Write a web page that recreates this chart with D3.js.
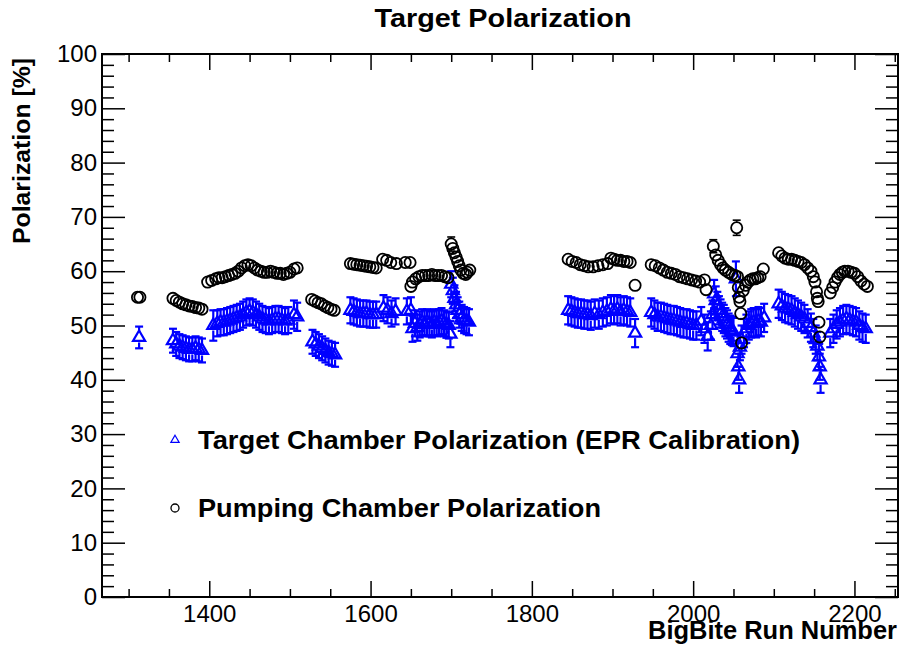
<!DOCTYPE html>
<html>
<head>
<meta charset="utf-8">
<script src="https://cdn.jsdelivr.net/npm/d3@7"></script>
<style>
body { margin: 0; background: #fff; }
text { font-family: "Liberation Sans", Arial, Helvetica, sans-serif; }
</style>
</head>
<body>
<script>
// axis ticks
var xTicks = [1400, 1600, 1800, 2000, 2200];
var yTicks = [0, 10, 20, 30, 40, 50, 60, 70, 80, 90, 100];

// target chamber polarization (EPR calibration)
var tcRun = [1313,
  1355, 1359, 1363, 1367, 1371, 1375, 1379, 1383, 1387, 1391,
  1405, 1410, 1414, 1418, 1422, 1426, 1430, 1434, 1438, 1442, 1446, 1450, 1454, 1458, 1462, 1466, 1470, 1474, 1478, 1482, 1486, 1490, 1494, 1498, 1505, 1509,
  1528, 1532, 1536, 1540, 1544, 1548, 1552, 1556,
  1575, 1579, 1583, 1587, 1591, 1595, 1599, 1603, 1607,
  1616, 1621, 1626, 1631,
  1645, 1650,
  1652, 1655, 1658, 1661, 1664, 1667, 1670, 1673, 1676, 1679, 1682, 1685, 1688, 1691, 1694, 1697, 1699, 1700, 1702, 1704, 1706, 1708, 1710, 1713, 1716, 1719, 1722,
  1845, 1849, 1853, 1857, 1861, 1865, 1869, 1873, 1878, 1883, 1888, 1893, 1898, 1902, 1906, 1910, 1914, 1918, 1922, 1928,
  1948, 1952, 1956, 1960, 1964, 1968, 1972, 1976, 1980, 1984, 1988, 1992, 1996, 2000, 2004, 2010, 2014, 2018,
  2022, 2024, 2026, 2028, 2030, 2032, 2034, 2036, 2038, 2040, 2042, 2044, 2046, 2048, 2050, 2053, 2055, 2056, 2057, 2058, 2060, 2063, 2066, 2069, 2072, 2075, 2078, 2081, 2084, 2088,
  2106, 2110, 2114, 2118, 2122, 2126, 2130, 2134, 2138, 2142, 2146, 2149, 2152, 2154, 2156, 2157, 2158, 2170, 2174, 2178, 2182, 2186, 2190, 2194, 2198, 2202, 2206, 2210, 2214];
var tcVal = [47.8,
  47.2, 46.6, 46.2, 46.0, 45.8, 45.6, 45.6, 45.8, 45.6, 45.4,
  50.0, 50.4, 50.6, 50.6, 50.8, 51.0, 51.2, 51.4, 51.6, 52.0, 52.4, 52.6, 52.4, 52.0, 51.6, 51.2, 51.0, 50.8, 51.0, 51.2, 51.2, 51.0, 50.8, 51.0, 52.0, 51.6,
  47.0, 46.6, 46.2, 45.8, 45.4, 45.0, 44.8, 44.6,
  52.8, 52.6, 52.4, 52.2, 52.2, 52.2, 52.0, 52.0, 52.0,
  53.2, 52.8, 52.2, 52.6,
  52.6, 52.8,
  49.4, 50.4, 49.6, 50.2, 50.6, 50.4, 50.6, 50.4, 50.2, 50.6, 50.4, 50.6, 50.8, 50.4, 50.2, 50.0, 48.4, 57.6, 56.4, 55.0, 53.8, 52.8, 52.0, 51.4, 51.0, 50.8, 50.6,
  52.8, 52.6, 52.4, 52.2, 52.2, 52.0, 52.0, 51.8, 52.2, 52.0, 52.4, 52.6, 53.0, 52.8, 53.0, 52.6, 52.8, 52.6, 52.4, 48.6,
  52.4, 52.0, 51.6, 51.6, 51.4, 51.2, 51.0, 51.0, 50.8, 50.6, 50.4, 50.4, 50.2, 50.0, 50.0, 50.8, 49.4, 48.0,
  50.0, 52.0, 55.8, 54.6, 53.6, 52.8, 52.2, 51.6, 51.2, 50.6, 50.2, 49.6, 49.2, 49.0, 48.8, 58.6, 44.8, 42.4, 40.0, 46.0, 47.4, 48.6, 49.4, 50.0, 50.4, 50.6, 50.4, 50.8, 50.6, 51.4,
  54.0, 53.6, 53.2, 53.0, 52.8, 52.4, 52.0, 51.6, 51.2, 50.4, 49.6, 48.6, 47.4, 46.2, 44.2, 42.4, 40.0, 48.6, 49.4, 50.2, 50.6, 51.0, 51.2, 51.0, 50.8, 50.6, 50.0, 49.6, 49.4];
var tcErr = [2.0,
  2.2, 2.2, 2.2, 2.2, 2.2, 2.2, 2.2, 2.2, 2.2, 2.2,
  2.8, 2.4, 2.4, 2.4, 2.4, 2.4, 2.4, 2.4, 2.4, 2.4, 2.4, 2.4, 2.4, 2.4, 2.4, 2.4, 2.4, 2.4, 2.4, 2.4, 2.4, 2.4, 2.4, 2.4, 2.6, 2.6,
  2.2, 2.2, 2.2, 2.2, 2.2, 2.2, 2.2, 2.2,
  2.4, 2.4, 2.4, 2.4, 2.4, 2.4, 2.4, 2.4, 2.4,
  2.4, 2.4, 2.4, 2.4,
  2.4, 2.4,
  2.4, 2.4, 2.4, 2.4, 2.4, 2.4, 2.4, 2.4, 2.4, 2.4, 2.4, 2.4, 2.4, 2.4, 2.4, 2.4, 2.4, 2.4, 2.4, 2.4, 2.4, 2.4, 2.4, 2.4, 2.4, 2.4, 2.4,
  2.6, 2.6, 2.6, 2.6, 2.6, 2.6, 2.6, 2.6, 2.6, 2.6, 2.6, 2.6, 2.6, 2.6, 2.6, 2.6, 2.6, 2.6, 2.6, 2.6,
  2.6, 2.6, 2.6, 2.6, 2.6, 2.6, 2.6, 2.6, 2.6, 2.6, 2.6, 2.6, 2.6, 2.6, 2.6, 2.6, 2.6, 2.6,
  2.6, 2.6, 2.6, 2.6, 2.6, 2.6, 2.6, 2.6, 2.6, 2.6, 2.6, 2.6, 2.6, 2.6, 2.6, 3.2, 2.4, 2.4, 2.4, 2.4, 2.6, 2.6, 2.6, 2.6, 2.6, 2.6, 2.6, 2.6, 2.6, 2.6,
  2.6, 2.6, 2.6, 2.6, 2.6, 2.6, 2.6, 2.6, 2.6, 2.6, 2.6, 2.6, 2.6, 2.6, 2.4, 2.4, 2.4, 2.6, 2.6, 2.6, 2.6, 2.6, 2.6, 2.6, 2.6, 2.6, 2.6, 2.6, 2.6];

// pumping chamber polarization
var pcRun = [1311, 1314,
  1355, 1359, 1363, 1367, 1371, 1375, 1379, 1383, 1387, 1391,
  1398, 1403, 1408, 1412, 1416, 1420, 1424, 1428, 1432, 1436, 1440, 1444, 1448, 1452, 1456, 1460, 1464, 1468, 1472, 1476, 1480, 1484, 1488, 1492, 1496, 1500, 1505, 1509,
  1527, 1531, 1535, 1539, 1543, 1547, 1551, 1555,
  1575, 1579, 1583, 1587, 1591, 1595, 1599, 1603, 1607,
  1615, 1620, 1625, 1632,
  1643, 1649,
  1650, 1652, 1656, 1660, 1664, 1668, 1672, 1676, 1680, 1684, 1688, 1692, 1696, 1700, 1702, 1704, 1706, 1708, 1710, 1712, 1715, 1718, 1720, 1723,
  1845, 1850, 1855, 1860, 1865, 1870, 1876, 1882, 1888, 1894, 1898, 1902, 1906, 1910, 1914, 1918, 1922, 1928,
  1948, 1953, 1958, 1963, 1968, 1973, 1978, 1983, 1988, 1993, 1998, 2003, 2008, 2014, 2016,
  2025, 2028, 2031, 2034, 2037, 2040, 2044, 2048, 2052, 2054, 2055, 2056, 2057, 2058, 2059, 2060, 2062, 2065, 2068, 2071, 2074, 2077, 2080, 2083, 2087,
  2106, 2110, 2114, 2118, 2122, 2126, 2130, 2134, 2138, 2142, 2146, 2149, 2151, 2153, 2154, 2155, 2156, 2157,
  2170, 2173, 2176, 2179, 2182, 2185, 2188, 2192, 2196, 2200, 2204, 2208, 2212, 2216];
var pcVal = [55.2, 55.2,
  55.0, 54.6, 54.3, 54.0, 53.8, 53.6, 53.5, 53.3, 53.2, 53.0,
  58.0, 58.3, 58.6, 58.8, 58.8, 59.0, 59.2, 59.4, 59.6, 60.0, 60.6, 61.0, 61.2, 61.0, 60.6, 60.2, 60.0, 59.8, 59.8, 60.0, 59.8, 59.6, 59.6, 59.4, 59.6, 59.8, 60.4, 60.6,
  54.8, 54.5, 54.2, 54.0, 53.6, 53.3, 53.0, 52.8,
  61.4, 61.3, 61.2, 61.1, 61.0, 60.9, 60.8, 60.7, 60.6,
  62.2, 62.0, 61.6, 61.4,
  61.6, 61.6,
  57.2, 58.0, 58.6, 59.0, 59.2, 59.2, 59.2, 59.4, 59.2, 59.2, 59.2, 59.0, 58.8, 65.0, 64.2, 63.4, 62.6, 61.8, 61.0, 60.2, 59.6, 59.4, 59.8, 60.2,
  62.2, 61.8, 61.6, 61.2, 61.0, 60.8, 60.8, 61.0, 61.2, 61.4, 62.4, 62.2, 62.0, 62.0, 61.8, 61.8, 61.6, 57.4,
  61.2, 61.0, 60.6, 60.2, 59.8, 59.6, 59.4, 59.0, 58.8, 58.6, 58.4, 58.2, 58.0, 58.4, 56.6,
  64.6, 63.0, 62.0, 61.2, 60.6, 60.2, 59.8, 59.4, 59.2, 68.0, 59.0, 57.0, 55.2, 54.4, 52.2, 46.8, 56.4, 57.4, 58.0, 58.4, 58.6, 58.6, 58.8, 59.0, 60.4,
  63.4, 62.8, 62.4, 62.2, 62.2, 62.0, 61.8, 61.6, 61.2, 60.6, 60.0, 59.0, 58.0, 56.2, 55.0, 54.4, 50.6, 47.9,
  56.0, 57.0, 58.0, 58.8, 59.4, 59.8, 60.0, 60.0, 59.8, 59.6, 59.0, 58.2, 57.6, 57.2];
var pcErr = [0.3, 0.3,
  0.3, 0.3, 0.3, 0.3, 0.3, 0.3, 0.3, 0.3, 0.3, 0.3,
  0.3, 0.3, 0.3, 0.3, 0.3, 0.3, 0.3, 0.3, 0.3, 0.3, 0.3, 0.3, 0.3, 0.3, 0.3, 0.3, 0.3, 0.3, 0.3, 0.3, 0.3, 0.3, 0.3, 0.3, 0.3, 0.3, 0.3, 0.3,
  0.3, 0.3, 0.3, 0.3, 0.3, 0.3, 0.3, 0.3,
  0.3, 0.3, 0.3, 0.3, 0.3, 0.3, 0.3, 0.3, 0.3,
  0.3, 0.3, 0.3, 0.3,
  0.3, 0.3,
  0.3, 0.3, 0.3, 0.3, 0.3, 0.3, 0.3, 0.3, 0.3, 0.3, 0.3, 0.3, 0.3, 1.3, 0.4, 0.4, 0.4, 0.4, 0.4, 0.4, 0.3, 0.3, 0.3, 0.3,
  0.3, 0.3, 0.3, 0.3, 0.3, 0.3, 0.3, 0.3, 0.3, 0.3, 0.3, 0.3, 0.3, 0.3, 0.3, 0.3, 0.3, 0.3,
  0.3, 0.3, 0.3, 0.3, 0.3, 0.3, 0.3, 0.3, 0.3, 0.3, 0.3, 0.3, 0.3, 0.3, 0.3,
  1.2, 0.4, 0.4, 0.4, 0.4, 0.3, 0.3, 0.3, 0.3, 1.4, 0.3, 0.3, 0.3, 0.3, 0.3, 0.3, 0.3, 0.3, 0.3, 0.3, 0.3, 0.3, 0.3, 0.3, 0.3,
  0.3, 0.3, 0.3, 0.3, 0.3, 0.3, 0.3, 0.3, 0.3, 0.3, 0.3, 0.3, 0.3, 0.3, 0.3, 0.3, 0.3, 0.3,
  0.3, 0.3, 0.3, 0.3, 0.3, 0.3, 0.3, 0.3, 0.3, 0.3, 0.3, 0.3, 0.3, 0.3];

var W = 900, H = 647;
var frame = {left: 102, top: 54, right: 898, bottom: 597};

var svg = d3.select("body").append("svg")
  .attr("width", W).attr("height", H);

var x = d3.scaleLinear().domain([1267, 2254]).range([frame.left, frame.right]);
var y = d3.scaleLinear().domain([0, 100]).range([frame.bottom, frame.top]);

var xMinor = d3.range(1300, 2254, 50).filter(function(v){ return v % 200 != 0; });
var yMinor = d3.range(0, 101, 2).filter(function(v){ return v % 10 != 0; });

function tickStyle(g) {
  g.select(".domain").remove();
  g.selectAll("line").attr("stroke", "#000").attr("stroke-width", 1.5);
  g.selectAll("text").attr("fill", "#000").style("font-size", "24px");
}

// bottom
svg.append("g").attr("transform", "translate(0," + frame.bottom + ")")
  .call(d3.axisBottom(x).tickValues(xTicks).tickSize(-16).tickPadding(8).tickFormat(d3.format("d")))
  .call(tickStyle);
svg.append("g").attr("transform", "translate(0," + frame.bottom + ")")
  .call(d3.axisBottom(x).tickValues(xMinor).tickSize(-8).tickFormat(""))
  .call(tickStyle);
// top
svg.append("g").attr("transform", "translate(0," + frame.top + ")")
  .call(d3.axisTop(x).tickValues(xTicks).tickSize(-16).tickFormat(""))
  .call(tickStyle);
svg.append("g").attr("transform", "translate(0," + frame.top + ")")
  .call(d3.axisTop(x).tickValues(xMinor).tickSize(-8).tickFormat(""))
  .call(tickStyle);
// left
svg.append("g").attr("transform", "translate(" + frame.left + ",0)")
  .call(d3.axisLeft(y).tickValues(yTicks).tickSize(-23).tickPadding(5).tickFormat(d3.format("d")))
  .call(tickStyle);
svg.append("g").attr("transform", "translate(" + frame.left + ",0)")
  .call(d3.axisLeft(y).tickValues(yMinor).tickSize(-12).tickFormat(""))
  .call(tickStyle);
// right
svg.append("g").attr("transform", "translate(" + frame.right + ",0)")
  .call(d3.axisRight(y).tickValues(yTicks).tickSize(-23).tickFormat(""))
  .call(tickStyle);
svg.append("g").attr("transform", "translate(" + frame.right + ",0)")
  .call(d3.axisRight(y).tickValues(yMinor).tickSize(-12).tickFormat(""))
  .call(tickStyle);

svg.append("rect")
  .attr("x", frame.left).attr("y", frame.top)
  .attr("width", frame.right - frame.left).attr("height", frame.bottom - frame.top)
  .attr("fill", "none").attr("stroke", "#000").attr("stroke-width", 2);

// titles
svg.append("text").attr("x", 503).attr("y", 27).attr("text-anchor", "middle")
  .attr("textLength", 257).attr("lengthAdjust", "spacingAndGlyphs")
  .style("font-size", "26px").style("font-weight", "bold").text("Target Polarization");
svg.append("text").attr("x", 897).attr("y", 639).attr("text-anchor", "end")
  .attr("textLength", 249).attr("lengthAdjust", "spacingAndGlyphs")
  .style("font-size", "25px").style("font-weight", "bold").text("BigBite Run Number");
svg.append("text").attr("transform", "translate(30,58) rotate(-90)").attr("text-anchor", "end")
  .attr("textLength", 186).attr("lengthAdjust", "spacingAndGlyphs")
  .style("font-size", "24.5px").style("font-weight", "bold").text("Polarization [%]");

// error bars drawn outside the marker
function errBars(g, runs, vals, errs, half, cap, color, width) {
  var d = runs.map(function(r, i){ return {r: r, v: vals[i], e: errs[i]}; });
  var lines = [];
  d.forEach(function(p) {
    var cx = x(p.r), cy = y(p.v), top = y(p.v + p.e), bot = y(p.v - p.e);
    if (cy - top > half) {
      lines.push([cx, top, cx, cy - half]);
      lines.push([cx, bot, cx, cy + half]);
      if (cap > 0) {
        lines.push([cx - cap / 2, top, cx + cap / 2, top]);
        lines.push([cx - cap / 2, bot, cx + cap / 2, bot]);
      }
    }
  });
  g.selectAll("line").data(lines).enter().append("line")
    .attr("x1", function(l){ return l[0]; }).attr("y1", function(l){ return l[1]; })
    .attr("x2", function(l){ return l[2]; }).attr("y2", function(l){ return l[3]; })
    .attr("stroke", color).attr("stroke-width", width);
}

var tri = d3.symbol().type(d3.symbolTriangle).size(64);

var gTC = svg.append("g");
errBars(gTC, tcRun, tcVal, tcErr, 5, 8, "#0000ff", 2.2);
gTC.selectAll("path.tc").data(tcRun).enter().append("path")
  .attr("class", "tc")
  .attr("d", tri)
  .attr("transform", function(r, i){ return "translate(" + x(r) + "," + y(tcVal[i]) + ")"; })
  .attr("fill", "none").attr("stroke", "#0000ff").attr("stroke-width", 2.2);

var gPC = svg.append("g");
errBars(gPC, pcRun, pcVal, pcErr, 6, 8, "#000", 1.6);
gPC.selectAll("circle").data(pcRun).enter().append("circle")
  .attr("cx", function(r){ return x(r); })
  .attr("cy", function(r, i){ return y(pcVal[i]); })
  .attr("r", 5.6)
  .attr("fill", "none").attr("stroke", "#000").attr("stroke-width", 1.8);

// legend
var legend = svg.append("g");
legend.append("path").attr("d", d3.symbol().type(d3.symbolTriangle).size(30))
  .attr("transform", "translate(175,440)")
  .attr("fill", "none").attr("stroke", "#0000ff").attr("stroke-width", 1.2);
legend.append("text").attr("x", 198).attr("y", 449)
  .attr("textLength", 602).attr("lengthAdjust", "spacingAndGlyphs")
  .style("font-size", "26px").style("font-weight", "bold")
  .text("Target Chamber Polarization (EPR Calibration)");
legend.append("circle").attr("cx", 175).attr("cy", 508).attr("r", 4)
  .attr("fill", "none").attr("stroke", "#000").attr("stroke-width", 1.3);
legend.append("text").attr("x", 198).attr("y", 517)
  .attr("textLength", 403).attr("lengthAdjust", "spacingAndGlyphs")
  .style("font-size", "26px").style("font-weight", "bold")
  .text("Pumping Chamber Polarization");
</script>
</body>
</html>
